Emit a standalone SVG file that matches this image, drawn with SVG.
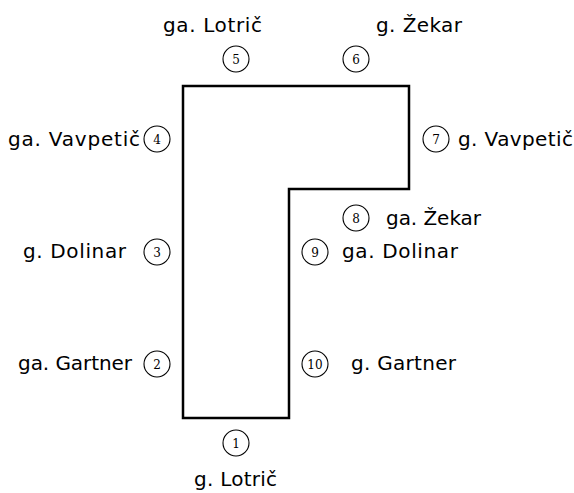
<svg xmlns="http://www.w3.org/2000/svg" width="574" height="493" viewBox="0 0 574 493">
  <style>
    .lbl { font-family: "DejaVu Sans", "Liberation Sans", sans-serif; font-size: 20px; fill: #000; }
    .num circle { fill: #fff; stroke: #000; stroke-width: 1.1; }
    .num text { font-family: "DejaVu Serif", "Liberation Serif", serif; font-size: 12px; fill: #000; text-anchor: middle; }
    .outline { fill: none; stroke: #000; stroke-width: 2.5; stroke-linejoin: miter; }
  </style>
  <rect width="574" height="493" fill="#fff"/>

  <!-- L-shaped outline -->
  <g id="connectors">
    <polygon class="outline" points="183,86 409,86 409,189 289,189 289,418 183,418"/>
  </g>

  <!-- numbered positions with names -->
  <g id="n1" class="num"><circle cx="236" cy="443" r="13"/><text x="236" y="447.5">1</text></g>
  <g id="n2" class="num"><circle cx="157" cy="364" r="13"/><text x="157" y="368.5">2</text></g>
  <g id="n3" class="num"><circle cx="157" cy="252" r="13"/><text x="157" y="256.5">3</text></g>
  <g id="n4" class="num"><circle cx="157" cy="139" r="13"/><text x="157" y="143.5">4</text></g>
  <g id="n5" class="num"><circle cx="236" cy="59" r="13"/><text x="236" y="63.5">5</text></g>
  <g id="n6" class="num"><circle cx="356" cy="59" r="13"/><text x="356" y="63.5">6</text></g>
  <g id="n7" class="num"><circle cx="436" cy="139" r="13"/><text x="436" y="143.5">7</text></g>
  <g id="n8" class="num"><circle cx="356" cy="218" r="13"/><text x="356" y="222.5">8</text></g>
  <g id="n9" class="num"><circle cx="315" cy="252" r="13"/><text x="315" y="256.5">9</text></g>
  <g id="n10" class="num"><circle cx="315" cy="364" r="13"/><text x="315" y="368.5">10</text></g>

  <g id="labels">
    <text class="lbl" x="163" y="32" textLength="99" lengthAdjust="spacing">ga. Lotrič</text>
    <text class="lbl" x="376" y="32" textLength="86" lengthAdjust="spacing">g. Žekar</text>
    <text class="lbl" x="8" y="146" textLength="132" lengthAdjust="spacing">ga. Vavpetič</text>
    <text class="lbl" x="23" y="258" textLength="103" lengthAdjust="spacing">g. Dolinar</text>
    <text class="lbl" x="18" y="370" textLength="114" lengthAdjust="spacing">ga. Gartner</text>
    <text class="lbl" x="458" y="146" textLength="115" lengthAdjust="spacing">g. Vavpetič</text>
    <text class="lbl" x="386" y="225" textLength="95" lengthAdjust="spacing">ga. Žekar</text>
    <text class="lbl" x="342" y="258" textLength="116" lengthAdjust="spacing">ga. Dolinar</text>
    <text class="lbl" x="351" y="370" textLength="105" lengthAdjust="spacing">g. Gartner</text>
    <text class="lbl" x="194" y="486" textLength="83" lengthAdjust="spacing">g. Lotrič</text>
  </g>
</svg>
